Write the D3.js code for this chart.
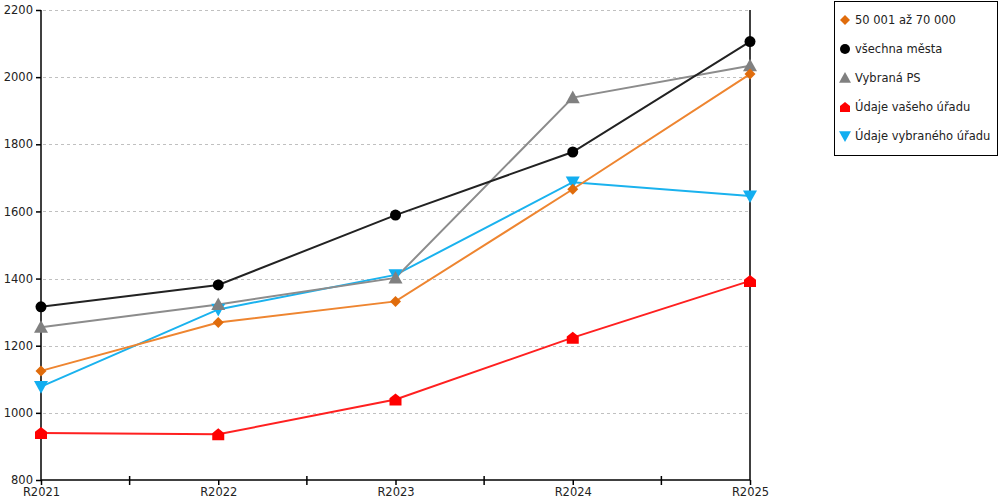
<!DOCTYPE html>
<html lang="cs">
<head>
<meta charset="UTF-8">
<script src="https://cdnjs.cloudflare.com/ajax/libs/d3/7.8.5/d3.min.js"></script>
<style>
  body { margin: 0; background: #fff; }
  svg text { font-family: "DejaVu Sans", Verdana, sans-serif; font-size: 11.5px; fill: #222; }
</style>
</head>
<body>
<svg id="chart" width="1000" height="500"></svg>
<script>
    // data
    var years = ['R2021', 'R2022', 'R2023', 'R2024', 'R2025'];
    var yTicks = [800, 1000, 1200, 1400, 1600, 1800, 2000, 2200];

    var mesta5070 = [1125, 1269, 1332, 1666, 2009];
    var vsechnaMesta = [1316, 1381, 1589, 1777, 2106];
    var vybranaPS = [1255, 1323, 1402, 1939, 2034];
    var vasUrad = [940, 936, 1040, 1224, 1393];
    var vybranyUrad = [1078, 1308, 1411, 1687, 1646];

    var series = [
        {name: '50 001 až 70 000', values: mesta5070, line: '#ee8530', fill: '#e06c0c', symbol: 'diamond'},
        {name: 'všechna města', values: vsechnaMesta, line: '#222222', fill: '#000000', symbol: 'circle'},
        {name: 'Vybraná PS', values: vybranaPS, line: '#8c8c8c', fill: '#808080', symbol: 'up'},
        {name: 'Údaje vašeho úřadu', values: vasUrad, line: '#ff2020', fill: '#ff0000', symbol: 'house'},
        {name: 'Údaje vybraného úřadu', values: vybranyUrad, line: '#1ab2ee', fill: '#12aef0', symbol: 'down'}
    ];

    var svg = d3.select('#chart');
    var pLeft = 41, pRight = 750, pTop = 10, pBottom = 480;

    var x = d3.scalePoint().domain(years).range([pLeft, pRight]);
    var y = d3.scaleLinear().domain([800, 2200]).range([pBottom, pTop]);

    // grid
    svg.append('g').selectAll('line')
        .data(yTicks.slice(1))
        .enter().append('line')
        .attr('x1', pLeft + 2).attr('x2', pRight - 2)
        .attr('y1', function(d) { return Math.round(y(d)) + 0.5; })
        .attr('y2', function(d) { return Math.round(y(d)) + 0.5; })
        .attr('stroke', '#c0c0c0')
        .attr('stroke-dasharray', '3,3');

    // y axis
    var yAxis = svg.append('g')
        .attr('transform', 'translate(' + pLeft + ',0)')
        .call(d3.axisLeft(y).tickValues(yTicks).tickSize(5).tickPadding(3).tickFormat(d3.format('d')));
    yAxis.select('.domain').attr('stroke', '#000').attr('stroke-width', 1.5).attr('d', 'M0,' + pTop + 'V' + pBottom);
    yAxis.selectAll('.tick line').attr('stroke', '#000').attr('stroke-width', 1.5);
    yAxis.selectAll('.tick text').attr('font-size', 11.5).attr('fill', '#222');

    // right-hand line
    svg.append('line')
        .attr('x1', pRight).attr('x2', pRight)
        .attr('y1', pTop).attr('y2', pBottom)
        .attr('stroke', '#000').attr('stroke-width', 1.5);

    // x axis
    var xAxis = svg.append('g')
        .attr('transform', 'translate(0,' + pBottom + ')')
        .call(d3.axisBottom(x).tickSize(5).tickPadding(3));
    xAxis.select('.domain').attr('stroke', '#000').attr('stroke-width', 1.5).attr('d', 'M' + pLeft + ',0H' + pRight);
    xAxis.selectAll('.tick line').attr('stroke', '#000').attr('stroke-width', 1.5);
    xAxis.selectAll('.tick text').attr('font-size', 11.5).attr('fill', '#222');

    // midpoint ticks between categories
    var mids = years.slice(1).map(function(d, i) { return (x(years[i]) + x(d)) / 2; });
    svg.append('g').selectAll('line')
        .data(mids)
        .enter().append('line')
        .attr('x1', function(d) { return d; }).attr('x2', function(d) { return d; })
        .attr('y1', pBottom - 4).attr('y2', pBottom + 5)
        .attr('stroke', '#000').attr('stroke-width', 1.5);

    function symbolPath(type, s) {
        if (type === 'diamond') return 'M0,' + (-s) + 'L' + s + ',0L0,' + s + 'L' + (-s) + ',0Z';
        if (type === 'circle') return d3.symbol().type(d3.symbolCircle).size(Math.PI * s * s)();
        if (type === 'up') return 'M0,' + (-s) + 'L' + s + ',' + (s * 0.8) + 'L' + (-s) + ',' + (s * 0.8) + 'Z';
        if (type === 'down') return 'M0,' + s + 'L' + s + ',' + (-s * 0.8) + 'L' + (-s) + ',' + (-s * 0.8) + 'Z';
        // house
        return 'M0,' + (-s) + 'L' + s + ',' + (-s * 0.2) + 'L' + s + ',' + s + 'L' + (-s) + ',' + s + 'L' + (-s) + ',' + (-s * 0.2) + 'Z';
    }
    var sizes = {diamond: 5.5, circle: 5.5, up: 7, down: 7, house: 6};

    var line = d3.line()
        .x(function(d, i) { return x(years[i]); })
        .y(function(d) { return y(d); });

    var drawOrder = [3, 4, 2, 0, 1];
    drawOrder.forEach(function(k) {
        var s = series[k];
        svg.append('path')
            .datum(s.values)
            .attr('d', line)
            .attr('fill', 'none')
            .attr('stroke', s.line)
            .attr('stroke-width', 2);
    });
    drawOrder.forEach(function(k) {
        var s = series[k];
        svg.append('g').selectAll('path')
            .data(s.values)
            .enter().append('path')
            .attr('transform', function(d, i) { return 'translate(' + x(years[i]) + ',' + y(d) + ')'; })
            .attr('d', symbolPath(s.symbol, sizes[s.symbol]))
            .attr('fill', s.fill);
    });

    // legend
    var legend = svg.append('g');
    legend.append('rect')
        .attr('x', 834.5).attr('y', 1.5)
        .attr('width', 163).attr('height', 154)
        .attr('fill', '#fff').attr('stroke', '#000').attr('stroke-width', 1);
    var item = legend.selectAll('.item')
        .data(series)
        .enter().append('g')
        .attr('class', 'item')
        .attr('transform', function(d, i) { return 'translate(845,' + (20 + i * 29) + ')'; });
    item.append('path')
        .attr('d', function(d) { return symbolPath(d.symbol, d.symbol === 'up' || d.symbol === 'down' ? 6 : 5); })
        .attr('fill', function(d) { return d.fill; });
    item.append('text')
        .attr('x', 10)
        .attr('dy', '0.35em')
        .text(function(d) { return d.name; });
</script>
</body>
</html>
